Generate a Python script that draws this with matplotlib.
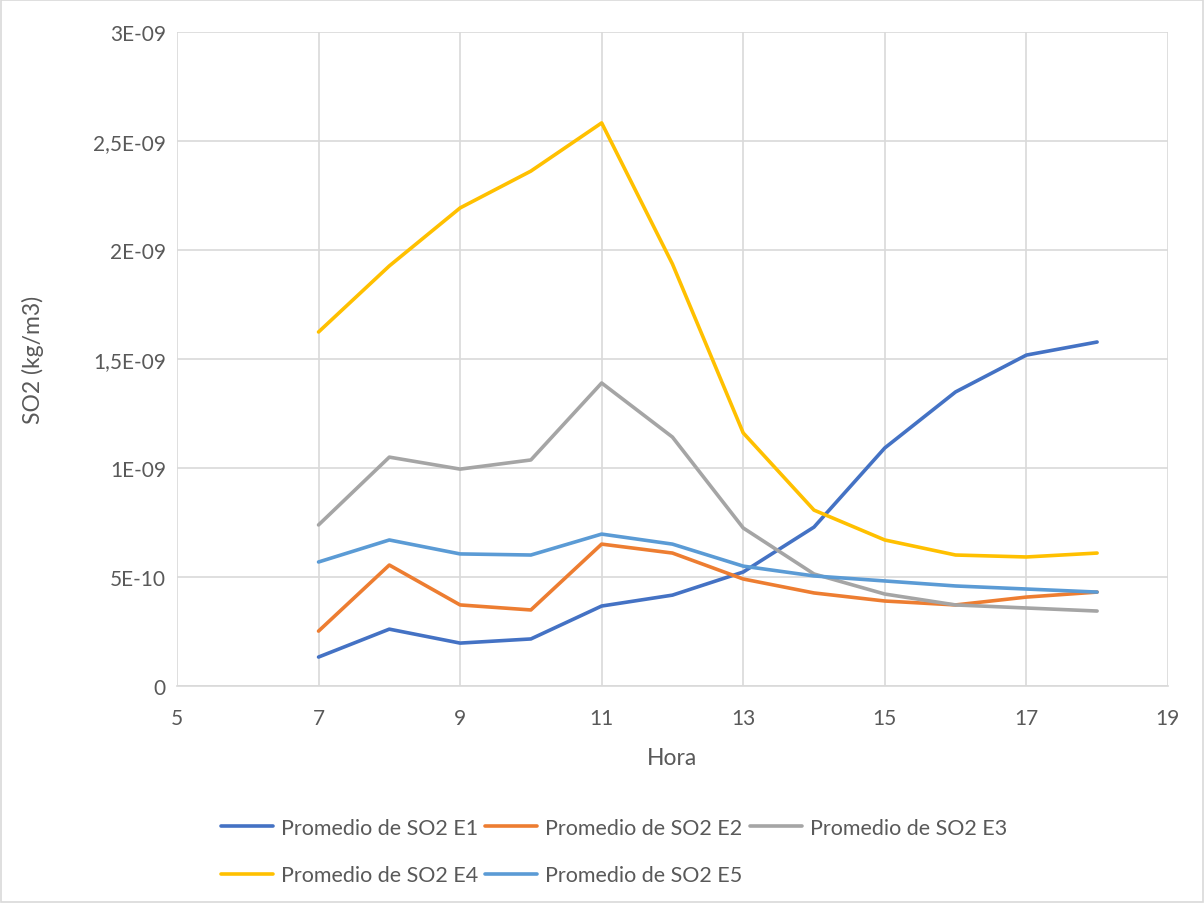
import matplotlib.pyplot as plt
from matplotlib.patches import Rectangle

plt.rcParams['font.family'] = ['Lato', 'DejaVu Sans']

horas = [7, 8, 9, 10, 11, 12, 13, 14, 15, 16, 17, 18]

so2_e1 = [0.133, 0.261, 0.197, 0.216, 0.367, 0.417, 0.523, 0.729, 1.092, 1.349, 1.518, 1.578]
so2_e2 = [0.252, 0.555, 0.372, 0.349, 0.651, 0.610, 0.491, 0.427, 0.390, 0.372, 0.408, 0.431]
so2_e3 = [0.739, 1.050, 0.995, 1.037, 1.390, 1.142, 0.725, 0.514, 0.422, 0.372, 0.358, 0.344]
so2_e4 = [1.624, 1.927, 2.193, 2.362, 2.583, 1.936, 1.161, 0.807, 0.670, 0.601, 0.592, 0.610]
so2_e5 = [0.569, 0.670, 0.606, 0.601, 0.697, 0.651, 0.550, 0.505, 0.482, 0.459, 0.445, 0.431]

series = [
    ("Promedio de SO2 E1", so2_e1, "#4472C4"),
    ("Promedio de SO2 E2", so2_e2, "#ED7D31"),
    ("Promedio de SO2 E3", so2_e3, "#A5A5A5"),
    ("Promedio de SO2 E4", so2_e4, "#FFC000"),
    ("Promedio de SO2 E5", so2_e5, "#5B9BD5"),
]

y_ticks = [0, 0.5e-9, 1e-9, 1.5e-9, 2e-9, 2.5e-9, 3e-9]
y_labels = ["0", "5E-10", "1E-09", "1,5E-09", "2E-09", "2,5E-09", "3E-09"]
x_ticks = [5, 7, 9, 11, 13, 15, 17, 19]

fig = plt.figure(figsize=(12.04, 9.04), dpi=100)
ax = fig.add_axes([0.147, 0.240, 0.823, 0.7235])

lines = {}
for name, vals, col in series:
    (ln,) = ax.plot(horas, [v * 1e-9 for v in vals], color=col, lw=2.6,
                    solid_joinstyle='round', solid_capstyle='round', label=name)
    lines[name] = ln

ax.set_xlim(5, 19)
ax.set_ylim(0, 3e-9)
ax.set_xticks(x_ticks)
ax.set_yticks(y_ticks)
ax.set_yticklabels(y_labels)
ax.grid(True, color="#D9D9D9", lw=1.2)
ax.set_axisbelow(True)
for s in ["top", "right", "left"]:
    ax.spines[s].set_visible(False)
ax.spines["bottom"].set_color("#D9D9D9")
ax.spines["bottom"].set_linewidth(1.2)
ax.tick_params(length=0, labelsize=15, labelcolor="#595959")
ax.tick_params(axis="x", pad=16)
ax.tick_params(axis="y", pad=8)

ax.set_xlabel("Hora", fontsize=16.5, color="#595959", va="center")
ax.set_ylabel("SO2 (kg/m3)", fontsize=16.5, color="#595959", va="center")
ax.xaxis.set_label_coords(0.5, -0.109)
ax.yaxis.set_label_coords(-0.145, 0.5)

# column-major order so rows read E1 E2 E3 / E4 E5
order = ["Promedio de SO2 E1", "Promedio de SO2 E4", "Promedio de SO2 E2",
         "Promedio de SO2 E5", "Promedio de SO2 E3"]
leg = fig.legend([lines[n] for n in order], order, ncol=3, loc="upper left",
                 bbox_to_anchor=(0.1836, 0.094), frameon=False, fontsize=15.5,
                 handlelength=2.4, handletextpad=0.37, columnspacing=0.35,
                 labelspacing=1.27, borderpad=0, borderaxespad=0)
for t in leg.get_texts():
    t.set_color("#595959")

fig.patches.append(Rectangle((0.001, 0.001), 0.998, 0.998, transform=fig.transFigure,
                             fill=False, edgecolor="#D9D9D9", lw=1.2))

fig.savefig("out.png", dpi=100)
